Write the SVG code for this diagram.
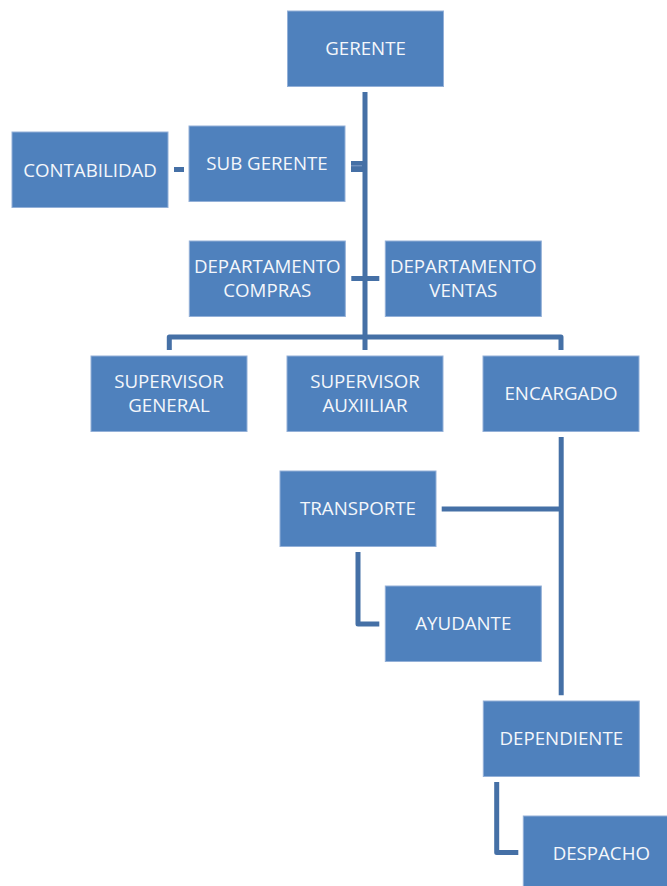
<svg xmlns="http://www.w3.org/2000/svg" width="667" height="886" viewBox="0 0 667 886">
<style>
.box{fill:#4F81BD;stroke:#93B0D8;stroke-width:1}
.t{font-family:"Open Sans","Liberation Sans",sans-serif;font-size:18.7px;fill:#F4F7FB;text-anchor:middle}
.c{fill:none;stroke:#4570A6;stroke-width:5;stroke-linejoin:round;stroke-linecap:butt}
</style>
<rect width="667" height="886" fill="#FFFFFF"/>
<g id="connectors">
<path class="c" d="M365,92 V350" stroke-width="5.5"/>
<path class="c" d="M169.3,350 V337 H561 V350" stroke-linejoin="miter" stroke-width="5.5"/>
<path class="c" d="M351.3,278.5 H379.3"/>
<rect x="351" y="161" width="12" height="11" fill="#4570A6"/>
<line x1="351" y1="165.8" x2="362" y2="165.8" stroke="#8FA9CF" stroke-width="0.8"/>
<path class="c" d="M174,169.5 H184"/>
<path class="c" d="M561.2,437 V695.3"/>
<path class="c" d="M441.7,508.9 H561" stroke-width="4.5"/>
<path class="c" d="M358,552 V624 H379.3"/>
<path class="c" d="M496.7,782 V852.5 H518.3"/>
</g>
<g id="gerente"><rect class="box" x="287.5" y="11" width="156" height="75.5"/><text class="t" x="365.5" y="55">GERENTE</text></g>
<g id="sub-gerente"><rect class="box" x="189" y="126" width="156" height="75.5"/><text class="t" x="267" y="170">SUB GERENTE</text></g>
<g id="contabilidad"><rect class="box" x="12" y="132" width="156" height="75.5"/><text class="t" x="90" y="176.5">CONTABILIDAD</text></g>
<g id="depto-compras"><rect class="box" x="189.3" y="241" width="156" height="75.5"/><text class="t" x="267.3" y="273">DEPARTAMENTO</text><text class="t" x="267.3" y="297">COMPRAS</text></g>
<g id="depto-ventas"><rect class="box" x="385.3" y="241" width="156" height="75.5"/><text class="t" x="463.3" y="273">DEPARTAMENTO</text><text class="t" x="463.3" y="297">VENTAS</text></g>
<g id="supervisor-general"><rect class="box" x="91" y="356" width="156" height="75.5"/><text class="t" x="169" y="388">SUPERVISOR</text><text class="t" x="169" y="412">GENERAL</text></g>
<g id="supervisor-auxiliar"><rect class="box" x="287" y="356" width="156" height="75.5"/><text class="t" x="365" y="388">SUPERVISOR</text><text class="t" x="365" y="412">AUXIILIAR</text></g>
<g id="encargado"><rect class="box" x="483" y="356" width="156" height="75.5"/><text class="t" x="561" y="400">ENCARGADO</text></g>
<g id="transporte"><rect class="box" x="280" y="471" width="156" height="75.5"/><text class="t" x="358" y="515">TRANSPORTE</text></g>
<g id="ayudante"><rect class="box" x="385.3" y="586" width="156" height="75.5"/><text class="t" x="463.3" y="630">AYUDANTE</text></g>
<g id="dependiente"><rect class="box" x="483.3" y="701" width="156" height="75.5"/><text class="t" x="561.3" y="745">DEPENDIENTE</text></g>
<g id="despacho"><rect class="box" x="523.3" y="816" width="156" height="75.5"/><text class="t" x="601.3" y="860">DESPACHO</text></g>
</svg>
